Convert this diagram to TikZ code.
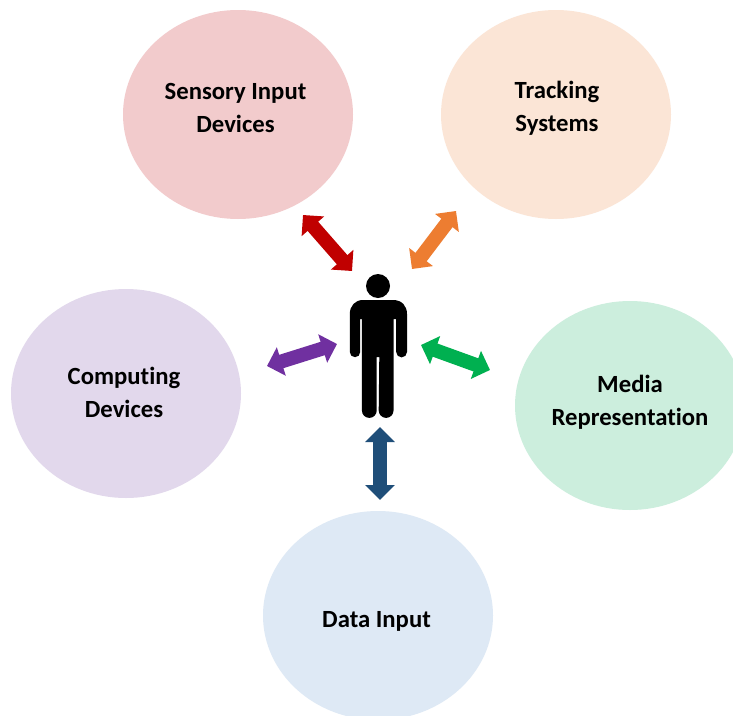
\documentclass[tikz,border=0pt]{standalone}
\usepackage{fontspec}
\setmainfont{Carlito}[Ligatures=NoCommon]
\usetikzlibrary{arrows.meta,shapes.geometric}
\tikzset{
  x=1pt,y=-1pt,
  bubble/.style={ellipse,draw=none,inner sep=0pt,minimum width=230pt,minimum height=209pt},
  caption/.style={align=center,font=\fontsize{24.7}{33}\selectfont\bfseries,text=black,inner sep=0pt},
  link/.style={line width=14pt,{Triangle[length=15pt,width=29pt]}-{Triangle[length=15pt,width=29pt]}},
}
\definecolor{cSensory}{HTML}{F2CBCC}
\definecolor{cTrack}{HTML}{FBE5D6}
\definecolor{cComp}{HTML}{E2D8EC}
\definecolor{cMedia}{HTML}{CCEEDD}
\definecolor{cData}{HTML}{DEE9F5}
\definecolor{aRed}{HTML}{C00000}
\definecolor{aOrange}{HTML}{ED7D31}
\definecolor{aPurple}{HTML}{7030A0}
\definecolor{aGreen}{HTML}{00B050}
\definecolor{aBlue}{HTML}{1F4E79}
\begin{document}
\begin{tikzpicture}
\useasboundingbox (0,0) rectangle (733,715);
\clip (0,0) rectangle (733,715);
\fill[white] (0,0) rectangle (733,715);
\node[bubble,fill=cSensory] (sensory) at (238,114.5) {};
\node[bubble,fill=cTrack] (track) at (556,114.5) {};
\node[bubble,fill=cComp] (comp) at (126,393.5) {};
\node[bubble,fill=cMedia] (media) at (630,405.5) {};
\node[bubble,fill=cData] (data) at (378,615.5) {};
\node[caption] (tsensory) at (235.5,108) {Sensory Input\\Devices};
\node[caption] (ttrack) at (557,108.5) {Tracking\\Systems};
\node[caption] (tcomp) at (124,392.5) {Computing\\Devices};
\node[caption] (tmedia) at (630,402) {Media\\Representation};
\node[caption] (tdata) at (376.5,621) {Data Input};
% person
\fill[black] (378,286) circle (12);
\fill[black] (363,300) -- (393,300)
  .. controls (402,300) and (407,306) .. (407,314)
  -- (407,352) arc[start angle=0,end angle=180,x radius=5.4,y radius=5.4] -- (396.2,319) -- (393.5,319)
  -- (393.5,410.5) arc[start angle=0,end angle=180,x radius=7.4,y radius=7.4] -- (379.3,357) -- (376.7,357)
  -- (376.7,410.5) arc[start angle=0,end angle=180,x radius=7.4,y radius=7.4] -- (361.9,319) -- (360.2,319)
  -- (360.2,352) arc[start angle=0,end angle=180,x radius=5.2,y radius=5.2] -- (349.8,314)
  .. controls (349.8,306) and (355,300) .. (363,300) -- cycle;
% arrows
\coordinate (r1) at (303,215); \coordinate (r2) at (352,271);
\coordinate (o1) at (456,211); \coordinate (o2) at (412,269);
\coordinate (p1) at (267,366); \coordinate (p2) at (337,344);
\coordinate (g1) at (421,345); \coordinate (g2) at (490,370);
\coordinate (b1) at (380,427); \coordinate (b2) at (380,500);
\draw[link,aRed] (r1) -- (r2);
\draw[link,aOrange] (o1) -- (o2);
\draw[link,aPurple] (p1) -- (p2);
\draw[link,aGreen] (g1) -- (g2);
\draw[link,aBlue] (b1) -- (b2);
\end{tikzpicture}
\end{document}
